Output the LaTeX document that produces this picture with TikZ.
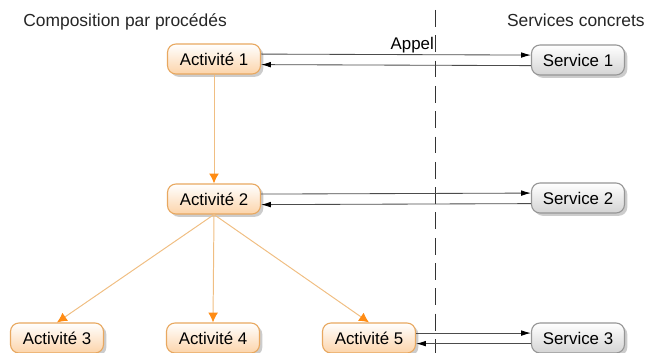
\documentclass[tikz,border=0pt]{standalone}
\usepackage{fontspec}
\setmainfont{Liberation Sans}
\usetikzlibrary{arrows.meta,shadows}
\definecolor{actborder}{RGB}{232,168,96}
\definecolor{actfill}{RGB}{252,212,170}
\definecolor{flowline}{RGB}{240,190,130}
\definecolor{flowtip}{RGB}{255,140,20}
\definecolor{srvborder}{RGB}{150,150,150}
\definecolor{srvfill}{RGB}{212,212,212}
\begin{document}
\begin{tikzpicture}[x=0.025cm, y=-0.025cm,
    box/.style={rounded corners=6pt, minimum width=93*0.025cm, minimum height=30*0.025cm,
        inner sep=0pt, font=\fontsize{12}{14}\selectfont, line width=0.8pt,
        drop shadow={shadow xshift=2pt, shadow yshift=-2pt, opacity=0.4}},
    activity/.style={box, draw=actborder, top color=white, bottom color=actfill},
    service/.style={box, draw=srvborder, top color=white, bottom color=srvfill},
    flow/.style={draw=flowline, line width=0.7pt, -{Latex[length=7pt, width=7pt, color=flowtip]}},
    call/.style={draw=black!70, line width=0.6pt, -{Latex[length=7pt, width=4pt, color=black]}},
    heading/.style={font=\fontsize{12.4}{15}\selectfont, inner sep=0pt, text=black!85}]
    \useasboundingbox (0,0) rectangle (647,353);

    % Headings
    \node[heading, anchor=base west] (compo) at (23,27) {Composition par procédés};
    \node[heading, anchor=base east] (concrets) at (645,27) {Services concrets};

    % Separator
    \coordinate (septop) at (435,10);
    \coordinate (sepbot) at (435,353);
    \draw[black!80, line width=0.6pt, dash pattern=on 12pt off 6pt] (septop) -- (sepbot);

    % Activities
    \node[activity] (a1) at (214,59) {Activité 1};
    \node[activity] (a2) at (214,199) {Activité 2};
    \node[activity] (a3) at (57,338) {Activité 3};
    \node[activity] (a4) at (213,338) {Activité 4};
    \node[activity] (a5) at (369,338) {Activité 5};

    % Services
    \node[service] (s1) at (578,60) {Service 1};
    \node[service] (s2) at (578,198) {Service 2};
    \node[service] (s3) at (578,338) {Service 3};

    % Process flow
    \draw[flow] (a1) -- (a2);
    \draw[flow] (a2.south) -- (a3.north);
    \draw[flow] (a2.south) -- (a4.north);
    \draw[flow] (a2.south) -- (a5.north);

    % Calls and returns
    \draw[call] ([yshift=3.5pt]a1.east) -- ([yshift=3.5pt]s1.west) node[pos=0.56, above, inner sep=1pt, font=\fontsize{12}{14}\selectfont] (appel) {Appel};
    \draw[call] ([yshift=-4pt]s1.west) -- ([yshift=-4pt]a1.east);
    \draw[call] ([yshift=3.5pt]a2.east) -- ([yshift=3.5pt]s2.west);
    \draw[call] ([yshift=-4pt]s2.west) -- ([yshift=-4pt]a2.east);
    \draw[call] ([yshift=3.5pt]a5.east) -- ([yshift=3.5pt]s3.west);
    \draw[call] ([yshift=-4pt]s3.west) -- ([yshift=-4pt]a5.east);
\end{tikzpicture}
\end{document}
